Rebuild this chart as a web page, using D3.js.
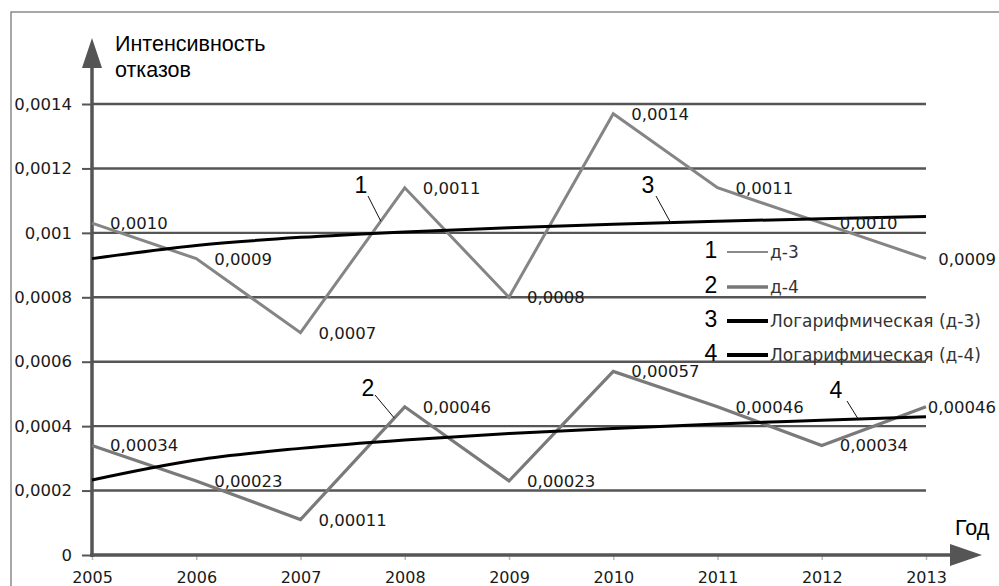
<!DOCTYPE html>
<html><head><meta charset="utf-8">
<script src="https://cdn.jsdelivr.net/npm/d3@7/dist/d3.min.js"></script>
<style>html,body{margin:0;padding:0;background:#fff;overflow:hidden}</style>
</head><body>
<svg id="chart" width="999" height="586"></svg>
<script>
const years = [2005, 2006, 2007, 2008, 2009, 2010, 2011, 2012, 2013];
const d3Values = [0.00103, 0.00092, 0.00069, 0.00114, 0.00080, 0.00137, 0.00114, 0.00103, 0.00092];
const d4Values = [0.00034, 0.00023, 0.00011, 0.00046, 0.00023, 0.00057, 0.00046, 0.00034, 0.00046];
const d3Labels = ["0,0010","0,0009","0,0007","0,0011","0,0008","0,0014","0,0011","0,0010","0,0009"];
const d4Labels = ["0,00034","0,00023","0,00011","0,00046","0,00023","0,00057","0,00046","0,00034","0,00046"];
// logarithmic trend lines at each year
const d3Trend = [0.000920, 0.000961, 0.000986, 0.001003, 0.001016, 0.001027, 0.001036, 0.001044, 0.001051];
const d4Trend = [0.000233, 0.000295, 0.000331, 0.000357, 0.000377, 0.000393, 0.000407, 0.000418, 0.000429];
const yTicks = [0, 0.0002, 0.0004, 0.0006, 0.0008, 0.001, 0.0012, 0.0014];
const yTickLabels = ["0","0,0002","0,0004","0,0006","0,0008","0,001","0,0012","0,0014"];
const legendNames = ["д-3", "д-4", "Логарифмическая (д-3)", "Логарифмическая (д-4)"];
const yTitle = ["Интенсивность", "отказов"];
const xTitle = "Год";

const svg = d3.select("#chart");
const NUM = "'DejaVu Sans', Verdana, sans-serif";
const ARIAL = "'Liberation Sans', Arial, sans-serif";

const x = d3.scaleLinear().domain([2005, 2013]).range([92, 926]);
const y = d3.scaleLinear().domain([0, 0.0014]).range([555, 104]);

// outer border
svg.append("rect").attr("x", 11).attr("y", 12).attr("width", 1000).attr("height", 600)
  .attr("fill", "none").attr("stroke", "#8a8a8a").attr("stroke-width", 1.5);

// gridlines
svg.append("g").selectAll("line").data(yTicks.filter(d => d > 0)).join("line")
  .attr("x1", x(2005)).attr("x2", x(2013))
  .attr("y1", d => y(d)).attr("y2", d => y(d))
  .attr("stroke", "#555").attr("stroke-width", 2.4);

// y axis ticks and labels
const gy = svg.append("g").attr("transform", `translate(${x(2005)},0)`)
  .call(d3.axisLeft(y).tickValues(yTicks).tickFormat((d, i) => yTickLabels[i]).tickSize(10).tickPadding(10));
gy.select(".domain").remove();
gy.selectAll(".tick line").attr("stroke", "#555").attr("stroke-width", 2);
gy.selectAll(".tick text").attr("font-family", NUM).attr("font-size", 16.5).attr("fill", "#1a1a1a");

// x axis ticks and labels
const gx = svg.append("g").attr("transform", `translate(0,${y(0)})`)
  .call(d3.axisBottom(x).tickValues(years).tickFormat(d3.format("d")).tickSize(5).tickPadding(12));
gx.select(".domain").remove();
gx.selectAll(".tick line").attr("stroke", "#bbb").attr("stroke-width", 1.5);
gx.selectAll(".tick text").attr("font-family", NUM).attr("font-size", 16).attr("fill", "#1a1a1a");

// axis lines with arrows
const axisColor = "#555";
svg.append("line").attr("x1", x(2005)).attr("x2", x(2005)).attr("y1", y(0) + 2).attr("y2", 66)
  .attr("stroke", axisColor).attr("stroke-width", 3.5);
svg.append("path").attr("d", `M${x(2005)},38 L${x(2005) - 10},68 L${x(2005) + 10},68 Z`).attr("fill", axisColor);
svg.append("line").attr("x1", x(2005) - 2).attr("x2", 952).attr("y1", y(0)).attr("y2", y(0))
  .attr("stroke", axisColor).attr("stroke-width", 3.5);
svg.append("path").attr("d", `M982,${y(0)} L950,${y(0) - 11} L950,${y(0) + 11} Z`).attr("fill", axisColor);

// axis titles
svg.append("text").attr("x", 115).attr("y", 51).attr("font-family", ARIAL).attr("font-size", 21.5)
  .attr("fill", "#000").text(yTitle[0]);
svg.append("text").attr("x", 115).attr("y", 77).attr("font-family", ARIAL).attr("font-size", 21.5)
  .attr("fill", "#000").text(yTitle[1]);
svg.append("text").attr("x", 955).attr("y", 535).attr("font-family", ARIAL).attr("font-size", 21.5)
  .attr("fill", "#000").text(xTitle);

// lines
const lineGen = d3.line().x((d, i) => x(years[i])).y(d => y(d));
const curveGen = d3.line().x((d, i) => x(years[i])).y(d => y(d)).curve(d3.curveMonotoneX);
svg.append("path").datum(d3Values).attr("d", lineGen).attr("fill", "none")
  .attr("stroke", "#858585").attr("stroke-width", 3).attr("stroke-linejoin", "miter");
svg.append("path").datum(d4Values).attr("d", lineGen).attr("fill", "none")
  .attr("stroke", "#7a7a7a").attr("stroke-width", 3.2).attr("stroke-linejoin", "miter");
svg.append("path").datum(d3Trend).attr("d", curveGen).attr("fill", "none")
  .attr("stroke", "#000").attr("stroke-width", 3);
svg.append("path").datum(d4Trend).attr("d", curveGen).attr("fill", "none")
  .attr("stroke", "#000").attr("stroke-width", 3);

// data labels
function labels(vals, texts) {
  const g = svg.append("g");
  g.selectAll("text").data(vals).join("text")
    .attr("x", (d, i) => x(years[i]) + 18).attr("y", d => y(d)).attr("dy", "0.36em")
    .attr("font-family", NUM).attr("font-size", 16.5).attr("fill", "#1a1a1a")
    .text((d, i) => texts[i])
    .each(function () {
      const len = this.getComputedTextLength();
      const cx = +this.getAttribute("x");
      if (cx + len > 996) this.setAttribute("x", 996 - len);
    });
}
labels(d3Values, d3Labels);
labels(d4Values, d4Labels);

// callout numbers with leader lines
const callouts = [
  {n: "1", tx: 361, ty: 193, x1: 368, y1: 196, year: 2007.77, series: "d3"},
  {n: "3", tx: 648, ty: 193, x1: 656, y1: 196, year: 2010.55, series: "t3"},
  {n: "2", tx: 368, ty: 396, x1: 375, y1: 395, year: 2007.9, series: "d4"},
  {n: "4", tx: 836, ty: 398, x1: 847, y1: 401, year: 2012.35, series: "t4"}
];
const seriesVal = {d3: d3Values, d4: d4Values, t3: d3Trend, t4: d4Trend};
callouts.forEach(c => {
  const vals = seriesVal[c.series];
  const i0 = Math.floor(c.year - 2005), t = c.year - 2005 - i0;
  const v = vals[i0] + (vals[i0 + 1] - vals[i0]) * t;
  svg.append("line").attr("x1", c.x1).attr("y1", c.y1).attr("x2", x(c.year)).attr("y2", y(v))
    .attr("stroke", "#111").attr("stroke-width", 1);
  svg.append("text").attr("x", c.tx).attr("y", c.ty).attr("text-anchor", "middle")
    .attr("font-family", ARIAL).attr("font-size", 23).attr("fill", "#000").text(c.n);
});

// legend
const legendStyles = [
  {stroke: "#8a8a8a", w: 2},
  {stroke: "#777", w: 3.5},
  {stroke: "#000", w: 4},
  {stroke: "#000", w: 4}
];
const legendY = [250, 285, 319, 353];
legendNames.forEach((name, i) => {
  const ly = legendY[i];
  svg.append("text").attr("x", 711).attr("y", ly).attr("dy", "0.36em").attr("text-anchor", "middle")
    .attr("font-family", ARIAL).attr("font-size", 23).attr("fill", "#000").text(String(i + 1));
  svg.append("line").attr("x1", 727).attr("x2", 768).attr("y1", ly + 2).attr("y2", ly + 2)
    .attr("stroke", legendStyles[i].stroke).attr("stroke-width", legendStyles[i].w);
  svg.append("text").attr("x", 770).attr("y", ly + 2).attr("dy", "0.36em")
    .attr("font-family", NUM).attr("font-size", 17).attr("fill", "#333").text(name);
});
</script>
</body></html>
